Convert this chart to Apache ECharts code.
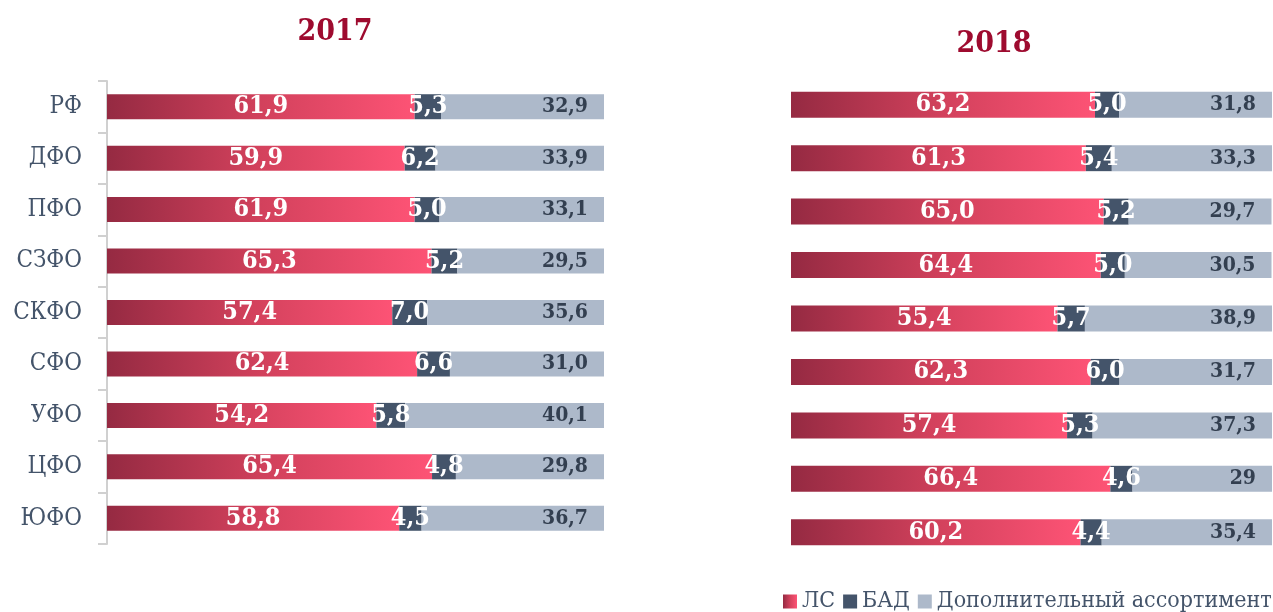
<!DOCTYPE html>
<html lang="ru">
<head>
    <meta charset="UTF-8">
    <title>Структура продаж</title>
    <style>
        html, body { margin: 0; padding: 0; background: #fff; }
        #main { width: 1273px; height: 612px; }
    </style>
</head>
<body>
<div id="main"></div>
<script src="https://cdn.jsdelivr.net/npm/echarts@6/dist/echarts.min.js"></script>
<script>
// округа
var regions = ['РФ', 'ДФО', 'ПФО', 'СЗФО', 'СКФО', 'СФО', 'УФО', 'ЦФО', 'ЮФО'];

// 2017
var ls2017  = [61.9, 59.9, 61.9, 65.3, 57.4, 62.4, 54.2, 65.4, 58.8];
var bad2017 = [5.3, 6.2, 5.0, 5.2, 7.0, 6.6, 5.8, 4.8, 4.5];
var dop2017 = [32.9, 33.9, 33.1, 29.5, 35.6, 31.0, 40.1, 29.8, 36.7];

// 2018
var ls2018  = [63.2, 61.3, 65.0, 64.4, 55.4, 62.3, 57.4, 66.4, 60.2];
var bad2018 = [5.0, 5.4, 5.2, 5.0, 5.7, 6.0, 5.3, 4.6, 4.4];
var dop2018 = [31.8, 33.3, 29.7, 30.5, 38.9, 31.7, 37.3, 29, 35.4];

var FONT = '"DejaVu Serif Condensed", "DejaVu Serif", serif';

function fmt1(p) { return p.value.toFixed(1).replace('.', ','); }
function fmtRaw(p) {
    return Number.isInteger(p.value) ? String(p.value) : p.value.toFixed(1).replace('.', ',');
}

var lsColor = new echarts.graphic.LinearGradient(0, 0, 1, 0, [
    {offset: 0, color: '#952a42'},
    {offset: 0.5, color: '#d2415c'},
    {offset: 1, color: '#fd5375'}
]);

function makeSeries(idx, ls, bad, dop, bw, dopFmt) {
    var base = {type: 'bar', stack: 's' + idx, xAxisIndex: idx, yAxisIndex: idx, barWidth: bw};
    return [
        Object.assign({}, base, {
            name: 'ЛС', data: ls,
            itemStyle: {color: lsColor},
            label: {show: true, position: 'inside', color: '#fff', fontFamily: FONT,
                fontWeight: 'bold', fontSize: 25, formatter: fmt1}
        }),
        Object.assign({}, base, {
            name: 'БАД', data: bad,
            itemStyle: {color: '#44546a'},
            label: {show: true, position: 'inside', color: '#fff', fontFamily: FONT,
                fontWeight: 'bold', fontSize: 25, formatter: fmt1}
        }),
        Object.assign({}, base, {
            name: 'Дополнительный ассортимент', data: dop,
            itemStyle: {color: '#adb9ca'},
            label: {show: true, position: 'insideRight', distance: 16, color: '#333f50',
                fontFamily: FONT, fontWeight: 'bold', fontSize: 21, formatter: dopFmt}
        })
    ];
}

var myChart = echarts.init(document.getElementById('main'));

var option = {
    animation: false,
    title: [
        {text: '2017', left: 330, top: 12, textAlign: 'center',
            textStyle: {color: '#9e0b2f', fontFamily: FONT, fontWeight: 'bold', fontSize: 30}},
        {text: '2018', left: 989, top: 24, textAlign: 'center',
            textStyle: {color: '#9e0b2f', fontFamily: FONT, fontWeight: 'bold', fontSize: 30}}
    ],
    legend: {
        left: 783, top: 590, width: 600, padding: 0,
        itemWidth: 14, itemHeight: 14, itemGap: 8,
        icon: 'rect',
        data: ['ЛС', 'БАД', 'Дополнительный ассортимент'],
        textStyle: {color: '#44546a', fontFamily: FONT, fontSize: 23}
    },
    grid: [
        {left: 107, top: 81, width: 497, height: 463},
        {left: 791, top: 78, width: 481, height: 481}
    ],
    xAxis: [
        {gridIndex: 0, type: 'value', min: 0, max: 100, show: false},
        {gridIndex: 1, type: 'value', min: 0, max: 100, show: false}
    ],
    yAxis: [
        {
            gridIndex: 0, type: 'category', data: regions, inverse: true,
            axisLine: {lineStyle: {color: '#d0d0d0', width: 2}},
            axisTick: {show: true, length: 9, lineStyle: {color: '#d0d0d0', width: 2}},
            axisLabel: {color: '#44546a', fontFamily: FONT, fontSize: 24, margin: 25}
        },
        {gridIndex: 1, type: 'category', data: regions, inverse: true, show: false}
    ],
    series: [].concat(
        makeSeries(0, ls2017, bad2017, dop2017, 25, fmt1),
        makeSeries(1, ls2018, bad2018, dop2018, 26, fmtRaw)
    )
};

myChart.setOption(option);
</script>
</body>
</html>
